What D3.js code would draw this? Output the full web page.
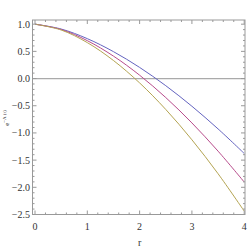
<!DOCTYPE html>
<html><head><meta charset="utf-8">
<script src="https://cdn.jsdelivr.net/npm/d3@7"></script>
<style>body{margin:0;background:#fff}svg{display:block}</style>
</head><body><svg id="c" width="249" height="249"></svg>
<script>
const rValues = [0, 0.5, 1, 1.5, 2, 2.5, 3, 3.5, 4];
const seriesBlue = [1, 0.911, 0.734, 0.495, 0.205, -0.131, -0.509, -0.926, -1.377];
const seriesPink = [1, 0.902, 0.697, 0.413, 0.062, -0.349, -0.816, -1.335, -1.903];
const seriesGold = [1, 0.893, 0.661, 0.332, -0.080, -0.568, -1.126, -1.750, -2.438];
const xTicks = [0, 1, 2, 3, 4];
const yTicks = [-2.5, -2.0, -1.5, -1.0, -0.5, 0.0, 0.5, 1.0];
const colors = ["#6464c0", "#b84c8c", "#b4a452"];

const svg = d3.select("#c");
const L = 32.5, R = 245, T = 20, B = 214.5;
const x = d3.scaleLinear().domain([-0.048, 4.015]).range([L, R]);
const y = d3.scaleLinear().domain([-2.5, 1.077]).range([B, T]);
const frameCol = "#999";
const font = "'Liberation Serif', 'DejaVu Serif', serif";

// zero line
svg.append("line").attr("x1", L).attr("x2", R).attr("y1", y(0)).attr("y2", y(0))
  .attr("stroke", "#aaa").attr("stroke-width", 1.2);

// curves
const line = d3.line().x((d, i) => x(rValues[i])).y(d => y(d)).curve(d3.curveCatmullRom);
[seriesBlue, seriesPink, seriesGold].forEach((s, k) => {
  svg.append("path").attr("d", line(s)).attr("fill", "none")
    .attr("stroke", colors[k]).attr("stroke-width", 1);
});

// frame
svg.append("rect").attr("x", L).attr("y", T).attr("width", R - L).attr("height", B - T)
  .attr("fill", "none").attr("stroke", frameCol).attr("stroke-width", 1);

// ticks
const xMinor = d3.range(0, 4.001, 0.2);
xMinor.forEach(v => {
  const major = Math.abs(v - Math.round(v)) < 1e-6;
  const len = major ? 4 : 2;
  const px = x(v);
  svg.append("line").attr("x1", px).attr("x2", px).attr("y1", B).attr("y2", B - len).attr("stroke", frameCol);
  svg.append("line").attr("x1", px).attr("x2", px).attr("y1", T).attr("y2", T + len).attr("stroke", frameCol);
});
const yMinor = d3.range(-2.5, 1.0001, 0.1);
yMinor.forEach(v => {
  const major = Math.abs(v * 2 - Math.round(v * 2)) < 1e-6;
  const len = major ? 4 : 2;
  const py = y(v);
  svg.append("line").attr("x1", L).attr("x2", L + len).attr("y1", py).attr("y2", py).attr("stroke", frameCol);
  svg.append("line").attr("x1", R).attr("x2", R - len).attr("y1", py).attr("y2", py).attr("stroke", frameCol);
});

// tick labels
xTicks.forEach(v => {
  svg.append("text").attr("x", x(v)).attr("y", 230).attr("text-anchor", "middle")
    .attr("font-family", font).attr("font-size", 10).attr("fill", "#333").text(String(v));
});
yTicks.forEach(v => {
  svg.append("text").attr("x", 30).attr("y", y(v) + 3.5).attr("text-anchor", "end")
    .attr("font-family", font).attr("font-size", 10).attr("fill", "#333")
    .text(v.toFixed(1).replace("-", "\u2212"));
});

// axis labels
svg.append("text").attr("x", x(2)).attr("y", 246).attr("text-anchor", "middle")
  .attr("font-family", font).attr("font-size", 10).attr("fill", "#333").text("r");
const yl = svg.append("text").attr("transform", "translate(9,118) rotate(-90)")
  .attr("text-anchor", "middle").attr("font-family", font).attr("font-size", 7).attr("fill", "#333");
yl.append("tspan").text("e");
yl.append("tspan").attr("dy", -3).attr("font-size", 5).text("\u2212\u039B (r)");
</script></body></html>
